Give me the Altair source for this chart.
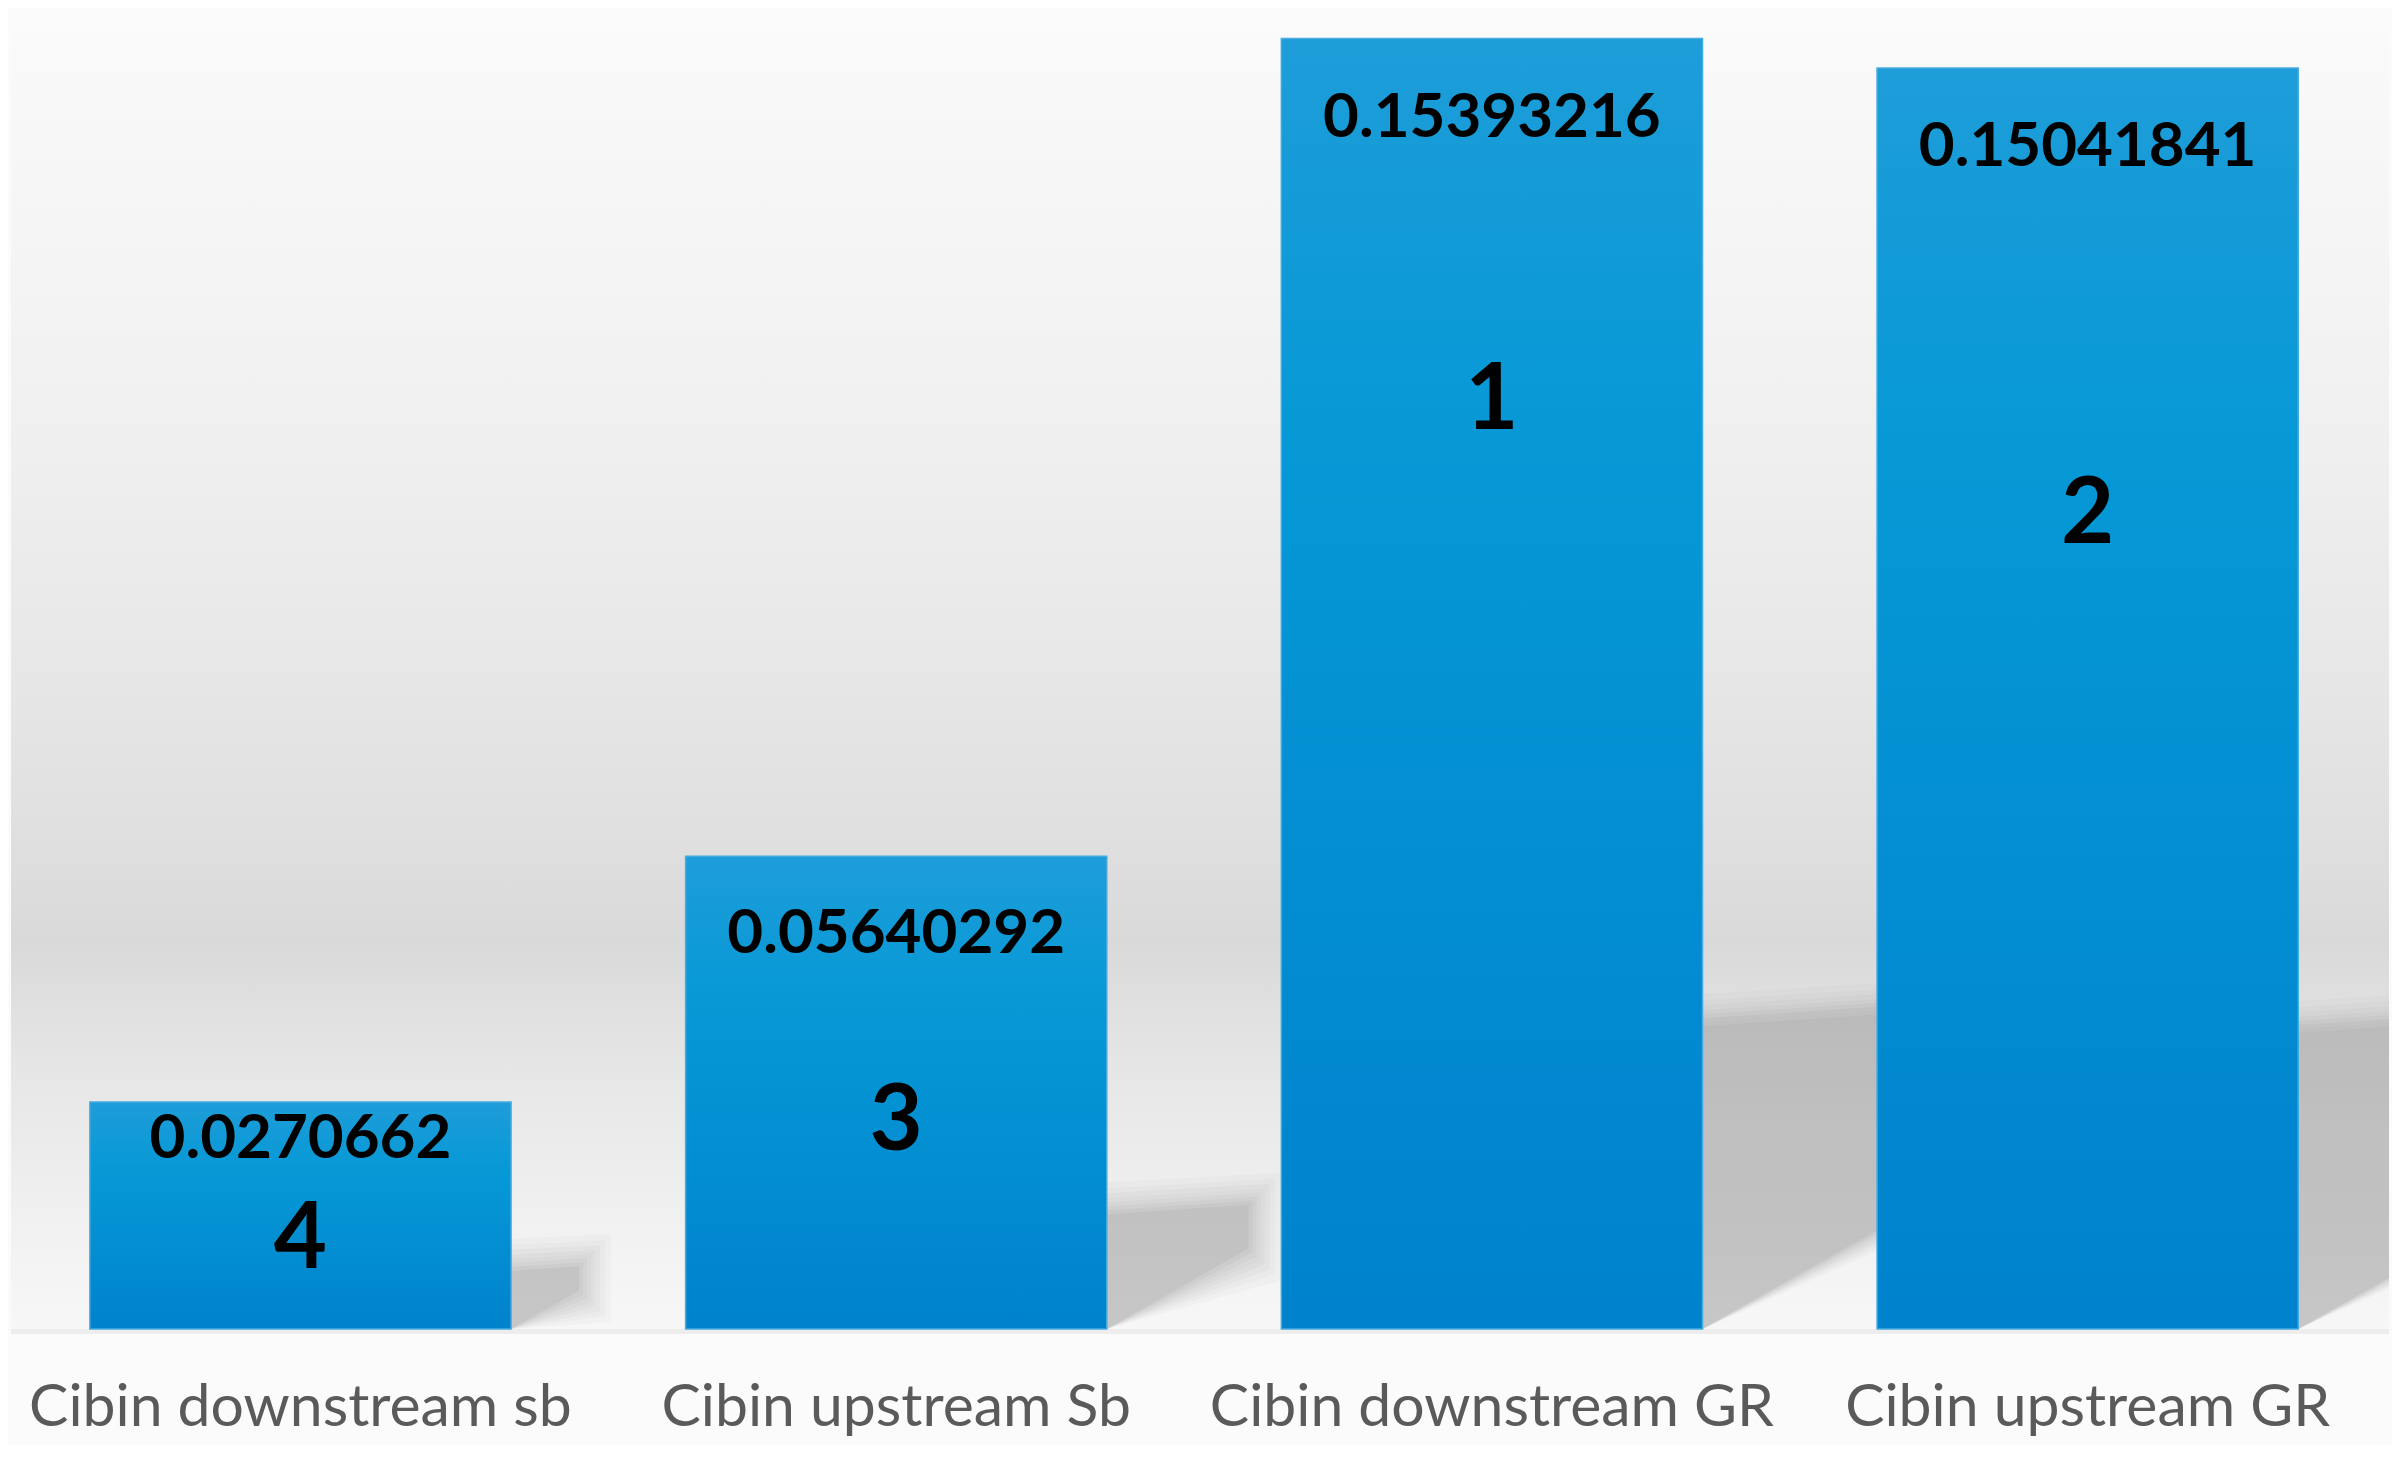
import altair as alt
import pandas as pd

# ---- data ----
categories = ["Cibin downstream sb", "Cibin upstream Sb", "Cibin downstream GR", "Cibin upstream GR"]
values = [0.0270662, 0.05640292, 0.15393216, 0.15041841]
value_texts = ["0.0270662", "0.05640292", "0.15393216", "0.15041841"]
ranks = ["4", "3", "1", "2"]

# ---- layout constants ----
W, H = 2382, 1299
Y_MAX = 0.1547
PAD_INNER = 0.293
PAD_OUTER = 0.1424
ALIGN = 0.465
value_drop_px = [37, 78, 80, 79]      # label centre below bar top
rank_drop_px = [138, 266, 363, 448]
FONT = "Lato"

px_per_unit = H / Y_MAX
step_px = W / (4 - PAD_INNER + 2 * PAD_OUTER)
bw_px = step_px * (1 - PAD_INNER)
start_px = (W - step_px * (4 - PAD_INNER)) * ALIGN

bars = pd.DataFrame({
    "cat": categories,
    "v": values,
    "vtxt": value_texts,
    "rank": ranks,
    "vy": [v - d / px_per_unit for v, d in zip(values, value_drop_px)],
    "ry": [v - d / px_per_unit for v, d in zip(values, rank_drop_px)],
})

# soft shadows derived from bar heights
rows = []
levels = [(0, 0.07), (4, 0.06), (8, 0.055), (12, 0.05), (16, 0.045),
          (21, 0.04), (26, 0.035), (32, 0.03)]
for i, v in enumerate(values):
    h = v * px_per_unit
    xr = start_px + i * step_px + bw_px
    ws = max(0.3 * h, 60)
    for k, (e, a) in enumerate(levels):
        xe = xr + ws + e
        rows.append({"id": f"{i}-{k}", "x": xr, "lo": 0.0,
                     "hi": (0.23 * h + 6 + e) / px_per_unit, "a": a})
        rows.append({"id": f"{i}-{k}", "x": xe,
                     "lo": max(0.0, 0.17 * h - e) / px_per_unit,
                     "hi": (0.25 * h + 6 + e) / px_per_unit, "a": a})
shadows = pd.DataFrame(rows)

ysc = alt.Scale(domain=[0, Y_MAX], nice=False, zero=True)
xband = alt.X("cat:N", sort=categories, title=None,
              scale=alt.Scale(paddingInner=PAD_INNER, paddingOuter=PAD_OUTER, align=ALIGN),
              axis=alt.Axis(labelFont=FONT, labelFontSize=59, labelColor="#5a5a5a",
                            labelAngle=0, ticks=False, domain=False, labelPadding=50,
                            labelLimit=2000, grid=False))

bg = alt.Chart(pd.DataFrame({"a": [0]})).mark_rect(
    color=alt.LinearGradient(
        gradient="linear", x1=0, x2=0, y1=0, y2=1,
        stops=[
            alt.GradientStop(offset=0.0, color="#fafafa"),
            alt.GradientStop(offset=0.33, color="#efefef"),
            alt.GradientStop(offset=0.51, color="#e6e6e6"),
            alt.GradientStop(offset=0.67, color="#dcdcdc"),
            alt.GradientStop(offset=0.70, color="#d9d9d9"),
            alt.GradientStop(offset=0.745, color="#dfdfdf"),
            alt.GradientStop(offset=0.80, color="#e6e6e6"),
            alt.GradientStop(offset=0.92, color="#f1f1f1"),
            alt.GradientStop(offset=1.0, color="#f7f7f7"),
        ])
).encode(x=alt.value(0), x2=alt.value("width"), y=alt.value(0), y2=alt.value("height"))

floor = alt.Chart(pd.DataFrame({"a": [0]})).mark_rule(
    color="#ededed", strokeWidth=5, yOffset=2.5
).encode(x=alt.value(0), x2=alt.value("width"), y=alt.value("height"))

shadow = alt.Chart(shadows).mark_area(color="#6f6f6f", clip=True, interpolate="linear").encode(
    x=alt.X("x:Q", scale=alt.Scale(domain=[0, W], nice=False, zero=False), axis=None),
    y=alt.Y("hi:Q", scale=ysc, axis=None),
    y2="lo:Q",
    detail="id:N",
    opacity=alt.Opacity("a:Q", scale=None),
)

bar = alt.Chart(bars).mark_bar(
    color=alt.LinearGradient(
        gradient="linear", x1=0, x2=0, y1=0, y2=1,
        stops=[
            alt.GradientStop(offset=0.0, color="#1e9dd9"),
            alt.GradientStop(offset=0.3, color="#0699d6"),
            alt.GradientStop(offset=1.0, color="#0082cd"),
        ]),
    stroke="#45aadf", strokeWidth=1.5,
).encode(x=xband, y=alt.Y("v:Q", scale=ysc, axis=None))

vlabel = alt.Chart(bars).mark_text(
    font=FONT, fontSize=62, fontWeight="bold", color="#000000", baseline="middle"
).encode(x=alt.X("cat:N", sort=categories), y=alt.Y("vy:Q", scale=ysc), text="vtxt:N")

rlabel = alt.Chart(bars).mark_text(
    font=FONT, fontSize=92, fontWeight="bold", color="#000000", baseline="middle"
).encode(x=alt.X("cat:N", sort=categories), y=alt.Y("ry:Q", scale=ysc), text="rank:N")

front = alt.layer(bar, vlabel, rlabel)

chart = alt.layer(bg, floor, shadow, front).resolve_scale(x="independent").properties(
    width=W, height=H,
    padding={"left": 0, "right": 0, "top": 23, "bottom": 6},
    background="#fbfbfb",
).configure_view(stroke=None)

chart.save("out.html", embed_options={"renderer": "svg", "actions": False})
